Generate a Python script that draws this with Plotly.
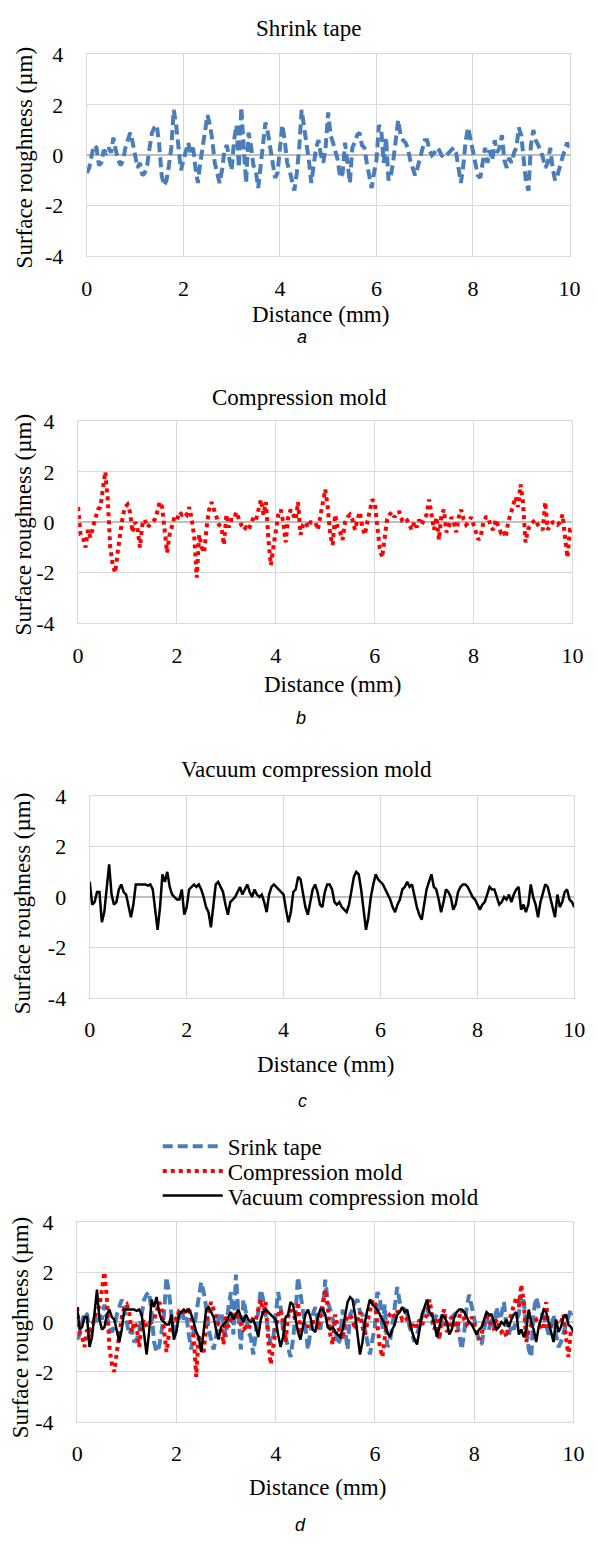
import plotly.graph_objects as go

# Sampling positions along the profile (mm)
distance_mm = [round(i * 0.05, 2) for i in range(201)]

# Surface roughness profiles (um), one value per 0.05 mm
shrink_tape = [
    -0.7, -0.5, 0.0, 0.4, 0.3, -0.4, -0.3, 0.2, 0.1, 0.3, 0.1, 0.7, 0.2, -0.2, -0.4, -0.2, 0.3, 0.6, 0.9, 0.5,
    -0.1, -0.5, -0.3, -0.8, -0.7, -0.4, 0.3, 0.9, 1.1, 1.2, 0.4, -0.8, -1.2, -1.0, -0.4, 0.3, 1.8, 1.2, 0.3, -0.6,
    -0.2, 0.2, 0.5, 0.1, 0.3, -0.5, -1.1, -0.3, 0.3, 1.0, 1.6, 1.2, 0.6, -0.3, -0.8, -1.1, -0.6, 0.2, 0.4, -0.2,
    -0.6, 0.6, 1.2, -0.5, 1.9, 0.3, -1.1, 0.9, 0.4, -0.4, -0.6, -1.3, -0.5, 0.5, 1.3, 0.9, 0.3, -0.5, -0.9, -0.7,
    0.1, 1.2, 0.6, -0.3, -0.6, -1.0, -1.4, -0.7, 0.3, 1.8, 1.2, 0.6, -0.2, -1.1, -0.5, 0.3, 0.6, 0.0, -0.3, 0.4,
    1.7, 0.8, 0.5, 0.2, -0.2, -0.9, -0.7, 0.5, -0.3, -1.1, 0.3, 0.5, 0.8, 0.9, 0.4, 0.3, -0.3, -0.9, -1.3, -0.7,
    -0.2, 1.2, 1.0, -0.3, 0.7, -1.0, -0.8, -0.2, 0.5, 1.4, 0.8, 0.6, 0.5, 0.3, -0.2, -0.5, -0.8, -0.5, -0.1, 0.2,
    0.6, 0.6, 0.2, 0.0, 0.1, 0.3, 0.2, 0.0, -0.1, 0.0, 0.1, 0.2, 0.3, 0.1, -0.5, -1.1, -0.4, 0.6, 1.1, 0.6,
    0.2, -0.5, -0.8, -0.9, -0.2, 0.3, -0.3, 0.2, -0.2, 0.6, 0.1, 0.3, 0.8, -0.2, -0.5, -0.1, -0.3, 0.1, 0.3, 1.1,
    0.8, -0.2, -1.1, -1.4, 0.4, 1.0, 0.6, 0.4, 0.2, -0.1, -0.5, -0.3, 0.3, -0.5, -1.0, -0.8, -0.4, -0.1, 0.2, 0.5,
    0.3,
]

compression_mold = [
    0.6, -0.5, -0.6, -1.0, -0.3, -0.6, -0.2, 0.1, 0.5, 0.6, 1.3, 2.0, 0.9, -1.0, -1.7, -2.0, -1.2, -0.5, 0.2, 0.6,
    0.7, 0.4, -0.4, 0.0, -0.2, -1.0, -0.1, 0.1, -0.2, -0.1, 0.0, 0.1, 0.4, 0.8, 0.6, -0.5, -1.2, -0.5, -0.2, 0.2,
    0.1, 0.4, 0.3, 0.4, 0.3, 0.6, 0.1, -0.6, -2.2, -0.5, -1.0, -1.2, -0.2, 0.5, 0.8, 0.5, 0.2, -0.1, -0.2, -0.9,
    0.3, -0.2, 0.1, 0.1, 0.4, 0.1, -0.1, -0.3, -0.2, -0.3, 0.0, 0.2, 0.1, 0.5, 0.9, 0.3, 0.8, -0.7, -1.7, -1.0,
    -0.3, 0.3, 0.5, 0.0, -0.8, 0.2, 0.5, 0.3, 0.1, 0.8, -0.5, -0.1, 0.0, -0.2, 0.0, 0.0, 0.0, -0.3, 0.3, 0.8,
    1.3, 0.6, -0.5, -0.9, 0.3, -0.2, -0.4, -0.7, 0.0, 0.2, 0.3, 0.1, -0.3, 0.1, 0.4, -0.2, -0.5, 0.0, 0.5, 0.9,
    0.8, -0.2, -1.0, -1.4, -0.5, 0.1, 0.3, 0.4, 0.2, 0.4, 0.4, 0.1, 0.2, 0.1, -0.1, -0.3, 0.0, -0.2, 0.1, -0.1,
    0.1, 0.3, 0.9, 0.2, -0.3, 0.2, -0.7, 0.3, 0.5, -0.4, -0.2, 0.2, 0.0, -0.4, 0.2, 0.5, 0.1, -0.1, 0.0, 0.2,
    -0.1, -0.4, -0.7, -0.5, 0.0, 0.2, 0.2, -0.2, -0.3, 0.1, -0.2, -0.4, -0.3, -0.6, 0.0, 0.3, 0.6, 1.0, 0.6, 1.5,
    0.8, -0.8, -0.3, -0.1, 0.0, 0.1, -0.1, -0.2, -0.3, 0.8, -0.3, -0.1, 0.0, 0.0, -0.1, 0.0, 0.3, -0.6, -1.4, -0.3,
    -0.3,
]

vacuum_mold = [
    0.6, -0.3, -0.2, 0.2, 0.2, -1.0, -0.6, 0.3, 1.3, 0.1, -0.3, -0.2, 0.3, 0.5, 0.2, 0.1, -0.4, -0.8, -0.3, 0.5,
    0.5, 0.5, 0.5, 0.5, 0.45, 0.5, 0.3, -0.5, -1.3, -0.4, 0.9, 0.6, 1.0, 0.4, 0.1, 0.0, -0.1, -0.1, 0.3, -0.7,
    -0.4, 0.3, 0.4, 0.5, 0.4, 0.5, 0.3, 0.0, -0.4, -0.6, -1.2, -0.4, 0.5, 0.6, 0.4, 0.2, -0.3, -0.7, -0.2, -0.1,
    0.0, 0.2, 0.4, 0.1, 0.3, 0.5, 0.2, 0.0, 0.3, 0.1, 0.0, 0.1, -0.2, -0.6, 0.1, 0.4, 0.5, 0.4, 0.3, 0.2,
    0.1, -0.5, -1.0, -0.6, 0.2, 0.3, 0.8, 0.7, 0.2, -0.4, -0.7, -0.2, 0.3, 0.5, 0.2, -0.3, -0.4, 0.2, 0.5, 0.5,
    0.3, -0.2, -0.3, -0.2, -0.4, -0.5, -0.6, -0.3, 0.3, 0.8, 1.0, 0.9, 0.3, -0.5, -1.3, -0.8, 0.0, 0.5, 0.9, 0.7,
    0.6, 0.5, 0.3, 0.1, -0.1, -0.4, -0.6, -0.3, -0.1, 0.3, 0.4, 0.6, 0.4, 0.5, 0.0, -0.4, -0.7, -0.9, -0.3, 0.3,
    0.6, 0.9, 0.4, 0.3, -0.1, -0.6, -0.2, 0.3, 0.2, 0.0, -0.5, -0.3, 0.2, 0.4, 0.5, 0.5, 0.4, 0.2, 0.0, -0.1,
    -0.3, -0.5, -0.3, -0.2, 0.1, 0.4, 0.3, 0.3, 0.0, -0.3, -0.2, 0.0, -0.1, 0.1, -0.2, 0.1, 0.3, 0.4, -0.5, -0.3,
    -0.6, -0.3, 0.5, 0.0, -0.3, -0.8, -0.2, 0.2, 0.5, 0.4, 0.0, -0.4, -0.8, 0.1, -0.4, -0.2, 0.2, 0.3, -0.1, -0.2,
    -0.4,
]

# Axis ticks
x_ticks = [0, 2, 4, 6, 8, 10]
y_ticks = [-4, -2, 0, 2, 4]
y_tick_labels = ['-4', '-2', '0', '2', '4']

panel_titles = ['Shrink tape', 'Compression mold', 'Vacuum compression mold', '']
panel_letters = ['a', 'b', 'c', 'd']
legend_names = ['Srink tape', 'Compression mold', 'Vacuum compression mold']

# The page body adds an 8px margin, so the figure is drawn 8px smaller
# and every pixel position below is given in page (screenshot) pixels
PAGE_W, PAGE_H, OFF = 598, 1549, 8
W, H = PAGE_W - OFF, PAGE_H - OFF
SERIF = 'Liberation Serif, Times New Roman, serif'
BLUE = '#4a7ebb'
RED = '#ff0000'
GRID = '#d9d9d9'

def px(x):
    # page pixel column -> paper coordinate
    return (x - OFF) / W

def py(y):
    # page pixel row -> paper coordinate
    return 1 - (y - OFF) / H

# Plot-area boxes in page pixels: left, right, top, bottom
boxes = [(83, 580, 43, 248),
         (74, 583, 416, 621),
         (86, 585, 797, 1002),
         (73, 584, 1230, 1433)]

# Text positions in page pixels
title_pos = [(311, 17), (302, 392), (309, 770), None]
xtitle_pos = [(324, 307), (336, 683), (329, 1070), (320, 1500)]
ytitle_pos = [(19, 148), (18, 521), (17, 906), (15, 1337)]
letter_pos = [(305, 330), (303, 718), (305, 1107), (303, 1538)]
legend_rows = [1153, 1178, 1203]

blue_line = dict(color=BLUE, width=4, dash='10px,5px')
red_line = dict(color=RED, width=4, dash='4px,4px')
black_line = dict(color='black', width=2.5)

fig = go.Figure()

# Panels a, b, c: single profiles
singles = [(shrink_tape, blue_line, legend_names[0]),
           (compression_mold, red_line, legend_names[1]),
           (vacuum_mold, black_line, legend_names[2])]
for i, (vals, line, name) in enumerate(singles):
    sfx = '' if i == 0 else str(i + 1)
    fig.add_trace(go.Scatter(x=distance_mm, y=vals, mode='lines', line=line,
                             name=name, showlegend=False,
                             xaxis='x' + sfx, yaxis='y' + sfx))

# Panel d: all three together, each entry in its own legend row
legend_ids = ['legend', 'legend2', 'legend3']
for (vals, line, name), lid in zip(singles, legend_ids):
    fig.add_trace(go.Scatter(x=distance_mm, y=vals, mode='lines', line=line,
                             name=name, showlegend=True, legend=lid,
                             xaxis='x4', yaxis='y4'))

layout = dict(width=W, height=H, margin=dict(l=0, r=0, t=0, b=0),
              paper_bgcolor='white', plot_bgcolor='white',
              font=dict(family=SERIF, size=22, color='black'),
              showlegend=True)

for lid, row in zip(legend_ids, legend_rows):
    layout[lid] = dict(x=px(156), y=py(row), xanchor='left', yanchor='middle',
                       font=dict(family=SERIF, size=23, color='black'),
                       bgcolor='rgba(0,0,0,0)', itemwidth=60)

annotations = []
for i, (l, r, t, b) in enumerate(boxes):
    sfx = '' if i == 0 else str(i + 1)
    layout['xaxis' + sfx] = dict(domain=[px(l), px(r)], anchor='y' + sfx,
                                 range=[0, 10], tickvals=x_ticks,
                                 showgrid=True, gridcolor=GRID, gridwidth=1.3,
                                 zeroline=False, showline=True, mirror=True,
                                 linecolor=GRID, linewidth=1.3,
                                 ticks='', ticklabelstandoff=12,
                                 tickfont=dict(family=SERIF, size=22))
    layout['yaxis' + sfx] = dict(domain=[py(b), py(t)], anchor='x' + sfx,
                                 range=[-4, 4], tickvals=y_ticks, ticktext=y_tick_labels,
                                 showgrid=True, gridcolor=GRID, gridwidth=1.3,
                                 zeroline=True, zerolinecolor='#bfbfbf', zerolinewidth=1.8,
                                 showline=True, mirror=True,
                                 linecolor=GRID, linewidth=1.3,
                                 ticks='', ticklabelstandoff=18,
                                 tickfont=dict(family=SERIF, size=22))

    if title_pos[i] is not None:
        annotations.append(dict(text=panel_titles[i], x=px(title_pos[i][0]), y=py(title_pos[i][1]),
                                xref='paper', yref='paper', showarrow=False,
                                xanchor='center', yanchor='middle',
                                font=dict(family=SERIF, size=23)))
    annotations.append(dict(text='Distance (mm)', x=px(xtitle_pos[i][0]), y=py(xtitle_pos[i][1]),
                            xref='paper', yref='paper', showarrow=False,
                            xanchor='center', yanchor='middle',
                            font=dict(family=SERIF, size=23)))
    annotations.append(dict(text='Surface roughness (µm)', x=px(ytitle_pos[i][0]), y=py(ytitle_pos[i][1]),
                            xref='paper', yref='paper', showarrow=False, textangle=-90,
                            xanchor='center', yanchor='middle',
                            font=dict(family=SERIF, size=23)))
    annotations.append(dict(text='<i>' + panel_letters[i] + '</i>', x=px(letter_pos[i][0]), y=py(letter_pos[i][1]),
                            xref='paper', yref='paper', showarrow=False,
                            xanchor='center', yanchor='middle',
                            font=dict(family='Liberation Sans, Arial, sans-serif', size=18)))

layout['annotations'] = annotations
fig.update_layout(**layout)

fig.write_html("out.html")
